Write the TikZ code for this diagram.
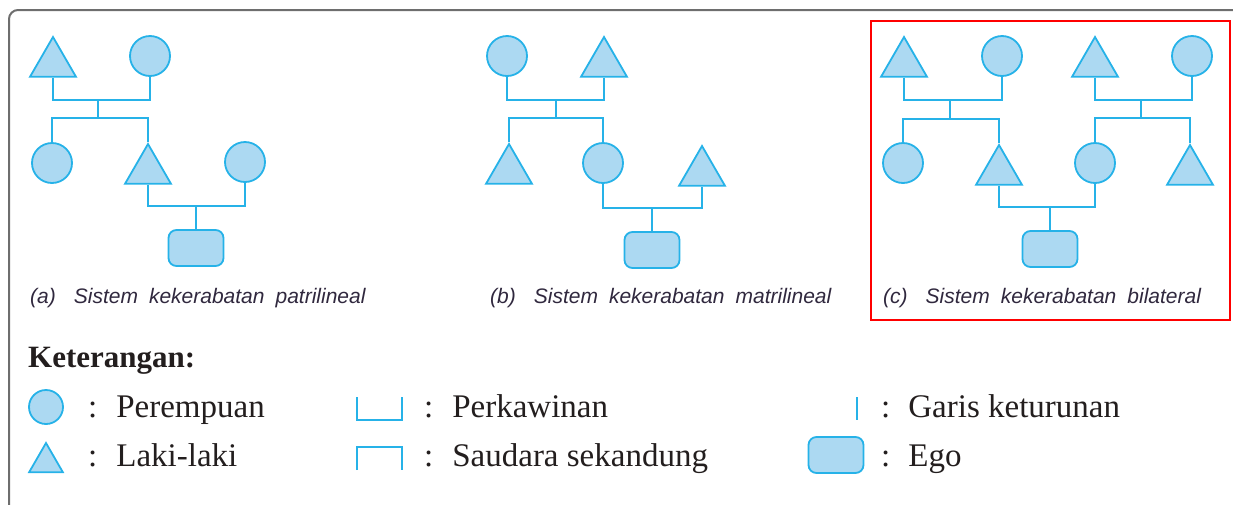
\documentclass[tikz,border=0pt]{standalone}
\usepackage{fontspec}
\setmainfont{Liberation Serif}
\newfontfamily\capfont{Liberation Sans}
\usepackage{tikz}
\usetikzlibrary{shapes,backgrounds,positioning}
\usepackage{xcolor}
\definecolor{garisbiru}{RGB}{38,178,232}
\definecolor{isibiru}{RGB}{172,217,242}
\definecolor{tekscap}{RGB}{48,40,62}
\definecolor{teks}{RGB}{35,30,30}
\definecolor{bingkai}{RGB}{110,110,110}

\tikzset{
    perempuan/.style={circle, draw=garisbiru, fill=isibiru, line width=1.8pt, minimum size=40pt, inner sep=0pt},
    lakilaki/.style={regular polygon, regular polygon sides=3, draw=garisbiru, fill=isibiru, line width=1.8pt, minimum size=53pt, inner sep=0pt},
    ego/.style={rectangle, rounded corners=8pt, draw=garisbiru, fill=isibiru, line width=1.8pt, minimum width=55pt, minimum height=36pt, inner sep=0pt},
    garis/.style={draw=garisbiru, line width=2.2pt},
    keterangan/.style={anchor=base west, text=teks, font=\fontsize{33}{37}\selectfont, inner sep=0pt},
    judul/.style={anchor=base west, text=tekscap, font=\capfont\itshape\fontsize{21}{25}\selectfont, inner sep=0pt},
}

\begin{document}
\begin{tikzpicture}[x=1pt,y=-1pt]
            \useasboundingbox (0,0) rectangle (1233,504);
            \draw[bingkai, line width=2pt, rounded corners=9pt] (9,540) -- (9,10) -- (1260,10);

            \node[lakilaki] (a1) at (53,63.5) {};
            \node[perempuan] (a2) at (150,56) {};
            \coordinate (am) at (98,100);
            \coordinate (as) at (98,118);
            \node[perempuan] (a3) at (52,163) {};
            \node[lakilaki] (a4) at (148,170.5) {};
            \node[perempuan] (a5) at (245,162) {};
            \coordinate (am2) at (196,206);
            \node[ego] (a6) at (196,248) {};
            \draw[garis] (a1.south) |- (am) -| (a2.south);
            \draw[garis] (am) -- (as);
            \draw[garis] (a3.north) |- (as) -| (a4.north);
            \draw[garis] (a4.south) |- (am2) -| (a5.south);
            \draw[garis] (am2) -- (a6.north);
            \node[judul] (a7) at (30,303) {(a)\hspace{18pt}Sistem\hspace{11pt}kekerabatan\hspace{11pt}patrilineal};

            \node[perempuan] (b1) at (507,56) {};
            \node[lakilaki] (b2) at (604,63.5) {};
            \coordinate (bm) at (556,100);
            \coordinate (bs) at (556,118);
            \node[lakilaki] (b3) at (509,170.5) {};
            \node[perempuan] (b4) at (603,163) {};
            \node[lakilaki] (b5) at (702,172.5) {};
            \coordinate (bm2) at (652,208);
            \node[ego] (b6) at (652,250) {};
            \draw[garis] (b1.south) |- (bm) -| (b2.south);
            \draw[garis] (bm) -- (bs);
            \draw[garis] (b3.north) |- (bs) -| (b4.north);
            \draw[garis] (b4.south) |- (bm2) -| (b5.south);
            \draw[garis] (bm2) -- (b6.north);
            \node[judul] (b7) at (490,303) {(b)\hspace{18pt}Sistem\hspace{11pt}kekerabatan\hspace{11pt}matrilineal};

            \node[lakilaki] (c1) at (904,63.5) {};
            \node[perempuan] (c2) at (1002,56) {};
            \node[lakilaki] (c3) at (1095,63.5) {};
            \node[perempuan] (c4) at (1192,56) {};
            \coordinate (cm1) at (950,100);
            \coordinate (cs1) at (950,119);
            \coordinate (cm2) at (1141,100);
            \coordinate (cs2) at (1141,118);
            \node[perempuan] (c5) at (903,163) {};
            \node[lakilaki] (c6) at (999,171.5) {};
            \node[perempuan] (c7) at (1095,163) {};
            \node[lakilaki] (c8) at (1190,171.5) {};
            \coordinate (cm3) at (1050,207);
            \node[ego] (c9) at (1050,249) {};
            \draw[garis] (c1.south) |- (cm1) -| (c2.south);
            \draw[garis] (cm1) -- (cs1);
            \draw[garis] (c5.north) |- (cs1) -| (c6.north);
            \draw[garis] (c3.south) |- (cm2) -| (c4.south);
            \draw[garis] (cm2) -- (cs2);
            \draw[garis] (c7.north) |- (cs2) -| (c8.north);
            \draw[garis] (c6.south) |- (cm3) -| (c7.south);
            \draw[garis] (cm3) -- (c9.north);
            \node[judul] (c10) at (883,303) {(c)\hspace{18pt}Sistem\hspace{11pt}kekerabatan\hspace{11pt}bilateral};
            \draw[red, line width=2pt] (871,21) rectangle (1230,320);

            \node[keterangan, font=\bfseries\fontsize{31}{35}\selectfont] (ket) at (28,367) {Keterangan:};
            \node[perempuan, minimum size=34pt] (lp) at (46,407) {};
            \node[keterangan] (tp) at (88,417) {:\hspace{19pt}Perempuan};
            \node[lakilaki, minimum size=39pt] (ll) at (46,462.5) {};
            \node[keterangan] (tl) at (88,466) {:\hspace{19pt}Laki-laki};
            \draw[garis, line width=1.8pt] (357,397) |- (402,420) -- (402,397);
            \node[keterangan] (tk) at (424,417) {:\hspace{19pt}Perkawinan};
            \draw[garis, line width=1.8pt] (357,470) |- (402,447) -- (402,470);
            \node[keterangan] (ts) at (424,466) {:\hspace{19pt}Saudara sekandung};
            \draw[garis, line width=1.8pt] (857,397) -- (857,420);
            \node[keterangan] (tg) at (881,417) {:\hspace{18pt}Garis keturunan};
            \node[ego] (le) at (836,455) {};
            \node[keterangan] (te) at (881,466) {:\hspace{18pt}Ego};
\end{tikzpicture}
\end{document}
